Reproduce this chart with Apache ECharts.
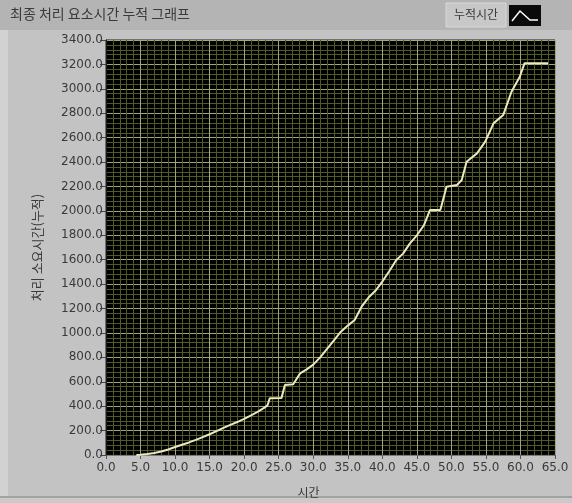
<!DOCTYPE html>
<html>
<head>
<meta charset="utf-8">
<script src="https://cdn.jsdelivr.net/npm/echarts@6/dist/echarts.min.js"></script>
<style>
  html, body { margin: 0; padding: 0; background: #c2c2c2; }
  #chart { width: 572px; height: 503px; }
</style>
</head>
<body>
<div id="chart"></div>
<script>
// Cumulative processing time vs. elapsed time
const times = [4.4, 5, 6, 7, 8, 9, 10, 11, 12, 13, 14, 15, 16, 17, 18, 19, 20, 21, 22, 23, 23.4, 23.7,
  25.4, 25.9, 27.1, 28.1, 29, 30, 31, 32, 33, 34, 35, 36, 37, 38, 39, 40, 41, 42, 43, 44, 45, 46, 46.9,
  48.4, 49.3, 50.8, 51.5, 52.2, 53.7, 54.9, 56.1, 57.5, 58.7, 59.9, 60.6, 64];
const cumulative = [0, 3, 9, 17, 28, 45, 65, 84, 103, 124, 147, 170, 195, 222, 247, 270, 296, 325, 355, 390, 410, 464,
  466, 573, 580, 669, 700, 740, 800, 870, 940, 1010, 1060, 1106, 1215, 1290, 1345, 1420, 1505, 1595, 1650, 1734, 1800, 1880, 2007,
  2007, 2198, 2212, 2253, 2403, 2471, 2567, 2717, 2785, 2976, 3099, 3210, 3210];

const xTicks = { min: 0, max: 65, step: 5 };
const yTicks = { min: 0, max: 3400, step: 200 };

const chartTitle = '최종 처리 요소시간 누적 그래프';
const seriesName = '누적시간';
const xName = '시간';
const yName = '처리 소요시간(누적)';

const points = times.map((t, i) => [t, cumulative[i]]);

const labelFont = 'DejaVu Sans, Noto Sans CJK KR, sans-serif';
const krFont = 'Noto Sans CJK KR, sans-serif';

const chart = echarts.init(document.getElementById('chart'));
chart.setOption({
  animation: false,
  backgroundColor: '#c3c3c3',
  grid: {
    left: 106, top: 40, right: 17, bottom: 48,
    show: true, backgroundColor: '#000000', borderColor: '#1a1a1a', borderWidth: 1
  },
  xAxis: {
    type: 'value', min: xTicks.min, max: xTicks.max, interval: xTicks.step,
    name: xName, nameLocation: 'middle', nameGap: 31,
    nameTextStyle: { fontFamily: krFont, fontSize: 12, color: '#3a3a3a', padding: [0, 44, 0, 0] },
    axisLine: { show: true, lineStyle: { color: '#7a7a7a', width: 1 } },
    axisTick: { show: true, length: 4, lineStyle: { color: '#555' } },
    axisLabel: { formatter: v => v.toFixed(1), color: '#3a3a3a', fontSize: 12, fontFamily: labelFont, margin: 7 },
    splitLine: { show: true, lineStyle: { color: '#a4a47a', width: 1 } },
    minorTick: { show: false, splitNumber: 5 },
    minorSplitLine: { show: true, lineStyle: { color: '#505a26', width: 1 } }
  },
  yAxis: {
    type: 'value', min: yTicks.min, max: yTicks.max, interval: yTicks.step,
    name: yName, nameLocation: 'middle', nameGap: 62, nameRotate: 90,
    nameTextStyle: { fontFamily: krFont, fontSize: 13, color: '#3a3a3a' },
    axisLine: { show: true, lineStyle: { color: '#1a1a1a', width: 1 } },
    axisTick: { show: true, length: 6, lineStyle: { color: '#444' } },
    axisLabel: { formatter: v => v.toFixed(1), color: '#3a3a3a', fontSize: 12, fontFamily: labelFont, margin: 3 },
    splitLine: { show: true, lineStyle: { color: '#a4a47a', width: 1 } },
    minorTick: { show: false, splitNumber: 5 },
    minorSplitLine: { show: true, lineStyle: { color: '#505a26', width: 1 } }
  },
  series: [{
    name: seriesName,
    type: 'line',
    data: points,
    showSymbol: false,
    lineStyle: { color: '#ece8bc', width: 2 }
  }],
  graphic: [
    // caption strip and panel edges
    { type: 'rect', shape: { x: 0, y: 0, width: 572, height: 30 }, style: { fill: '#b4b4b4' }, z: -1 },
    { type: 'rect', shape: { x: 0, y: 30, width: 8, height: 466 }, style: { fill: '#d2d2d2' }, z: -1 },
    { type: 'rect', shape: { x: 0, y: 496, width: 572, height: 2 }, style: { fill: '#a2a2a2' }, z: -1 },
    { type: 'rect', shape: { x: 0, y: 498, width: 572, height: 5 }, style: { fill: '#cacaca' }, z: -1 },
    { type: 'text', left: 10, top: 7, style: { text: chartTitle, font: '14px ' + krFont, fill: '#3a3a3a' } },
    // plot legend
    { type: 'rect', shape: { x: 446, y: 3, width: 60, height: 24 }, style: { fill: '#c8c8c8', stroke: '#d8d8d8', lineWidth: 1 } },
    { type: 'text', left: 454, top: 8, style: { text: seriesName, font: '12px ' + krFont, fill: '#3a3a3a' } },
    { type: 'rect', shape: { x: 509, y: 5, width: 32, height: 21 }, style: { fill: '#0a0a0a' } },
    { type: 'polyline', shape: { points: [[512, 21], [520, 11], [530, 20], [538, 20]] },
      style: { stroke: '#ffffff', lineWidth: 1.5, fill: null } }
  ]
});
</script>
</body>
</html>
